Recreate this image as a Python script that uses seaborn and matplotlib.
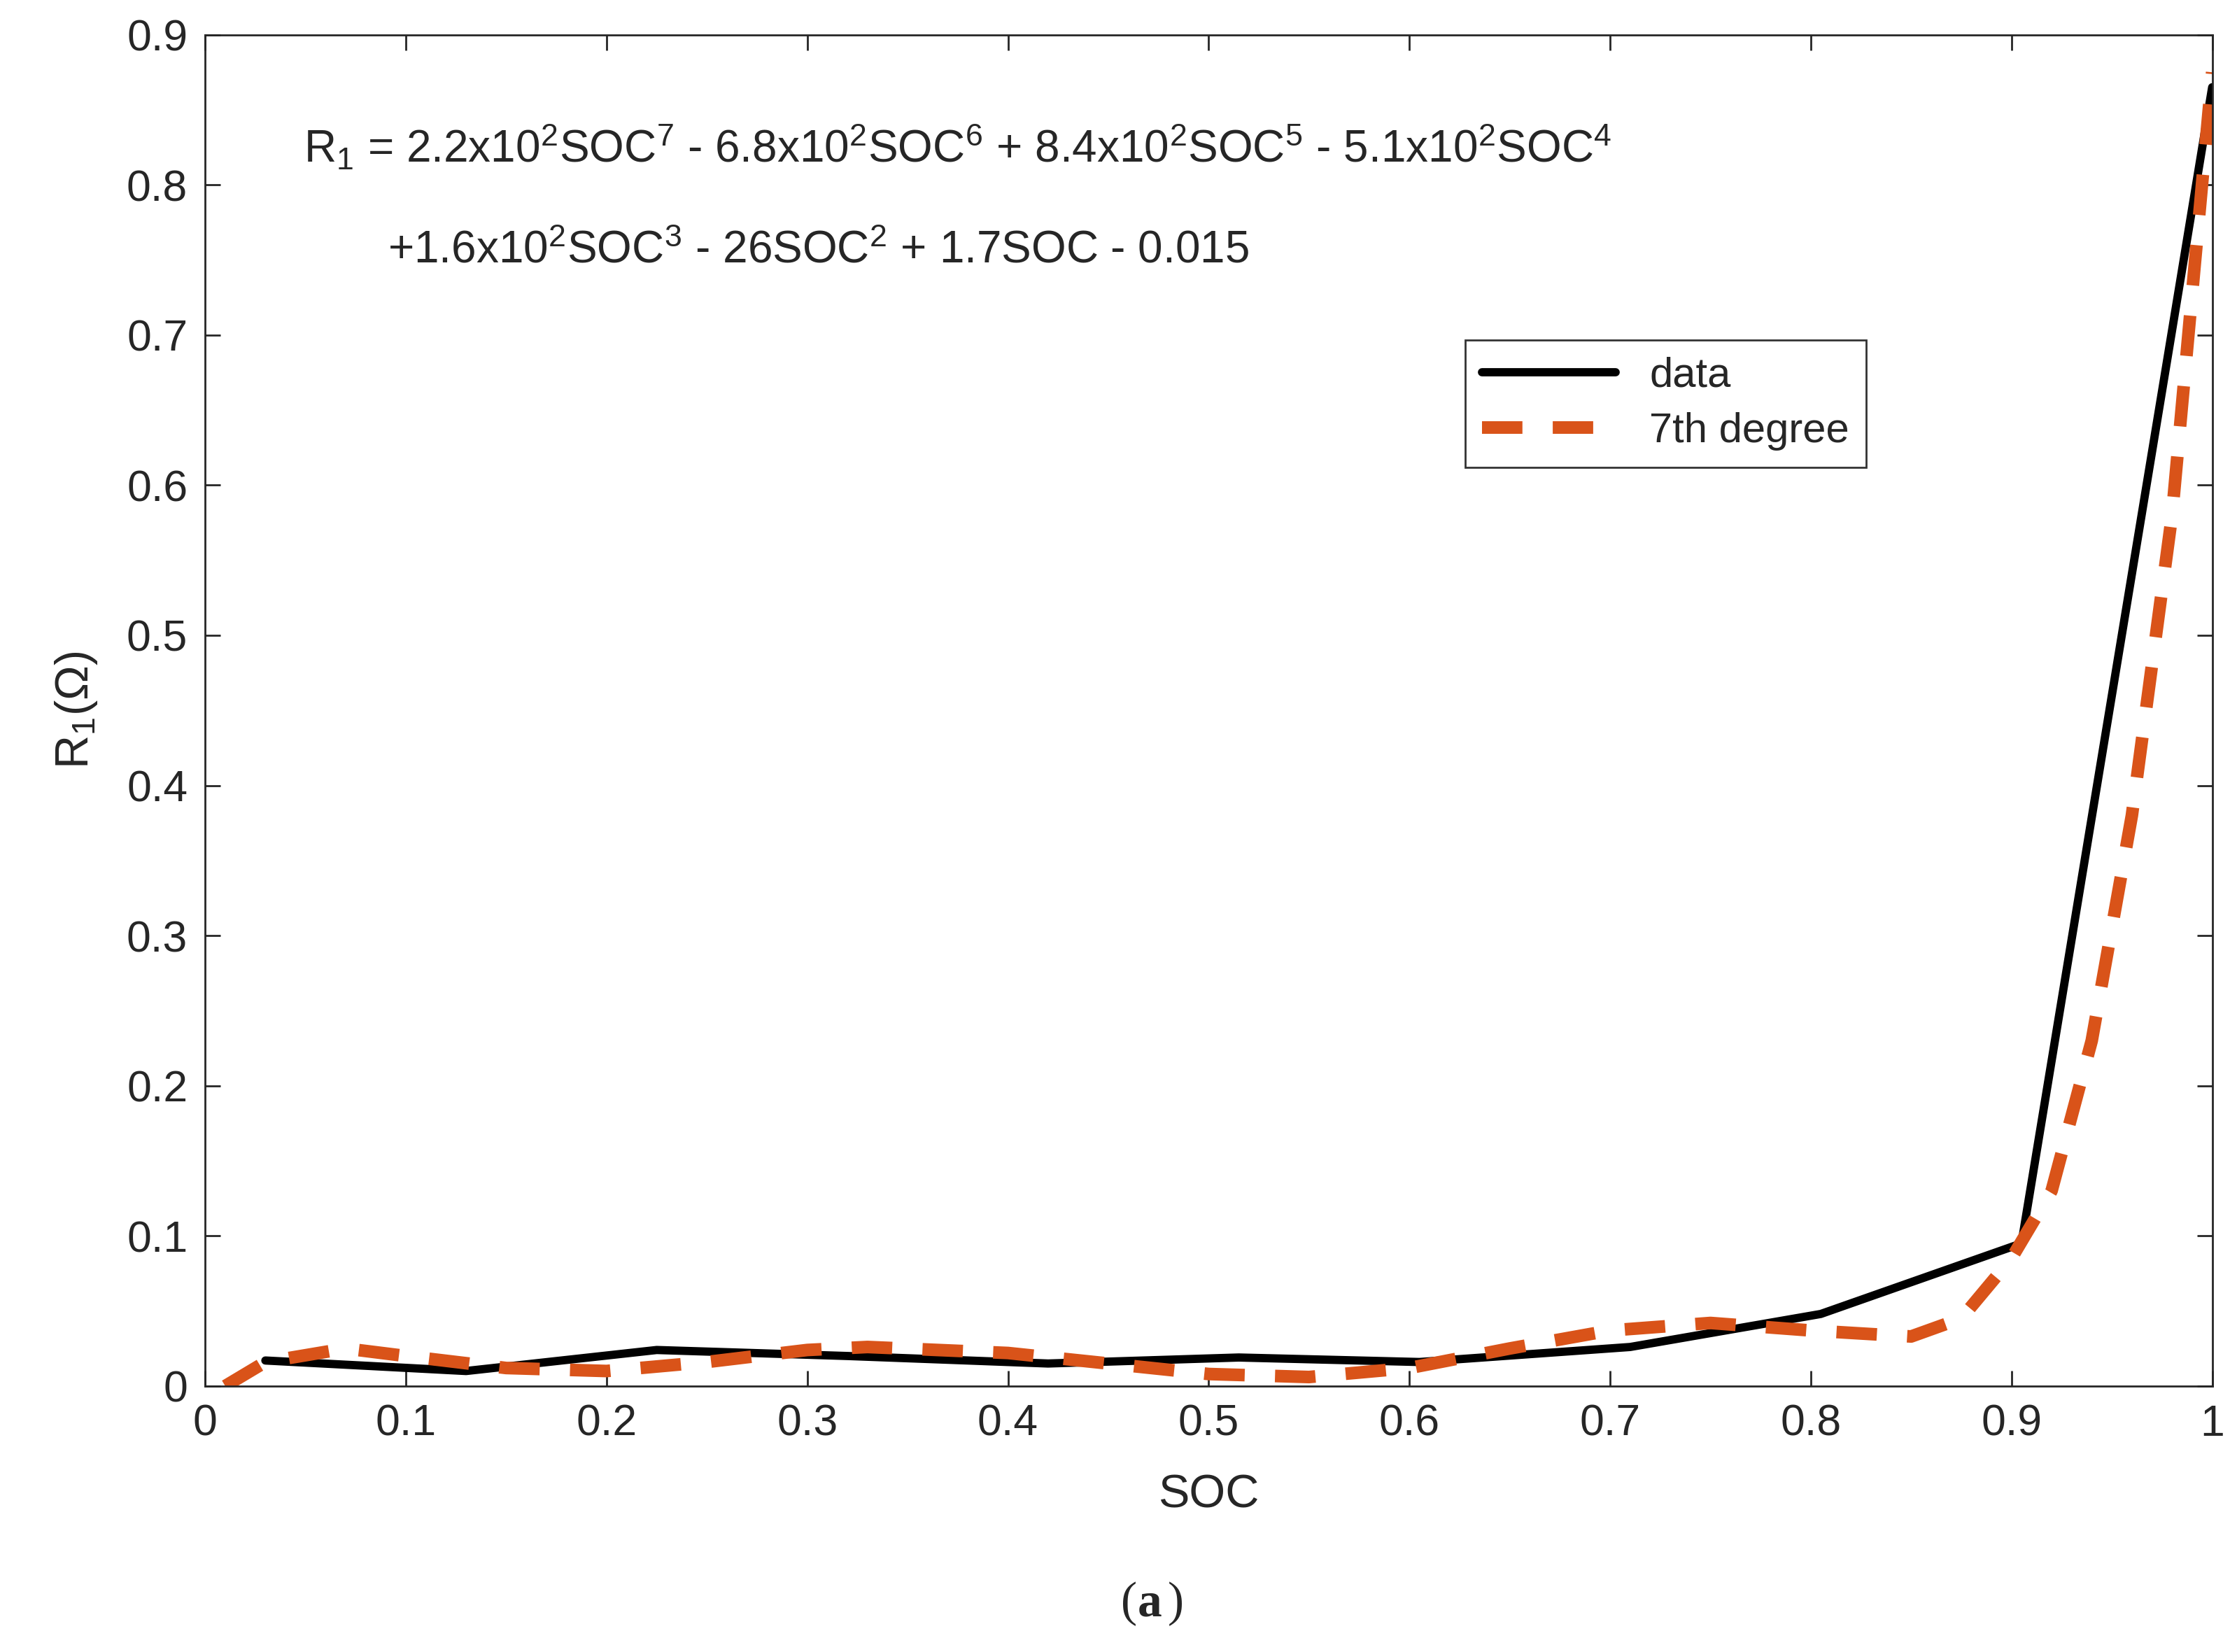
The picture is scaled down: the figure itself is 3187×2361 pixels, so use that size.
import matplotlib
matplotlib.use("Agg")
import matplotlib.pyplot as plt
import matplotlib.ticker as mticker
import pandas as pd
import seaborn as sns

soc_data = [0.03, 0.13, 0.225, 0.32, 0.42, 0.515, 0.605, 0.71, 0.805, 0.905, 1.0]
r1_data = [0.017, 0.010, 0.024, 0.020, 0.015, 0.019, 0.016, 0.026, 0.048, 0.095, 0.865]

soc_fit = [0.01, 0.03, 0.07, 0.10, 0.15, 0.20, 0.25, 0.30, 0.33, 0.40, 0.45, 0.50, 0.55,
           0.60, 0.65, 0.70, 0.75, 0.80, 0.85, 0.875, 0.90, 0.92, 0.94, 0.96, 0.98, 1.0]
r1_fit = [0.0, 0.016, 0.025, 0.020, 0.012, 0.010, 0.016, 0.024, 0.026, 0.022, 0.015, 0.008,
          0.006, 0.012, 0.025, 0.037, 0.042, 0.037, 0.033, 0.045, 0.085, 0.13, 0.23, 0.38,
          0.58, 0.875]

sns.set_style("ticks")
plt.rcParams["font.family"] = ["Liberation Sans", "DejaVu Sans"]
plt.rcParams["mathtext.fontset"] = "custom"
plt.rcParams["mathtext.rm"] = "Liberation Sans"
plt.rcParams["mathtext.it"] = "Liberation Sans"

fig = plt.figure(figsize=(31.87, 23.61), dpi=100)
ax = fig.add_axes([0.092, 0.161, 0.9, 0.818])

df_data = pd.DataFrame({"SOC": soc_data, "R1": r1_data})
df_fit = pd.DataFrame({"SOC": soc_fit, "R1": r1_fit})
sns.lineplot(data=df_data, x="SOC", y="R1", ax=ax, color="black", lw=8.5, label="data")
sns.lineplot(data=df_fit, x="SOC", y="R1", ax=ax, color="#D95319", lw=13,
             linestyle=(0, (3.2, 2.4)), label="7th degree")

ax.set_xlim(0, 1)
ax.set_ylim(0, 0.9)
ax.set_xticks([i / 10 for i in range(11)])
ax.set_yticks([i / 10 for i in range(10)])
fmt = mticker.FuncFormatter(lambda v, p: "%g" % round(v, 2))
ax.xaxis.set_major_formatter(fmt)
ax.yaxis.set_major_formatter(fmt)
ax.tick_params(direction="in", length=16, width=2, labelsize=45, top=True, right=True, pad=18)
for s in ax.spines.values():
    s.set_linewidth(2)
ax.set_xlabel("SOC", fontsize=48, labelpad=30)
ax.set_ylabel(r"R$_1$($\Omega$)", fontsize=48, labelpad=28)

ax.text(0.049, 0.905, r"R$_1$ = 2.2x10$^2$SOC$^7$ - 6.8x10$^2$SOC$^6$ + 8.4x10$^2$SOC$^5$ - 5.1x10$^2$SOC$^4$",
        transform=ax.transAxes, fontsize=46)
ax.text(0.091, 0.831, r"+1.6x10$^2$SOC$^3$ - 26SOC$^2$ + 1.7SOC - 0.015",
        transform=ax.transAxes, fontsize=46)

leg = ax.legend(loc="upper left", bbox_to_anchor=(0.628, 0.774), fontsize=43,
                frameon=True, fancybox=False, edgecolor="black", handlelength=3.2,
                borderaxespad=0, borderpad=0.4, labelspacing=0.4)
leg.get_frame().set_linewidth(2)

fig.text(0.51, 0.022, "(", ha="right", fontsize=50, family="Liberation Serif")
fig.text(0.51, 0.022, "a", ha="left", fontsize=50, family="Liberation Serif", weight="bold")
fig.text(0.5235, 0.022, ")", ha="left", fontsize=50, family="Liberation Serif")

fig.savefig("out.png", dpi=100, facecolor="white")
